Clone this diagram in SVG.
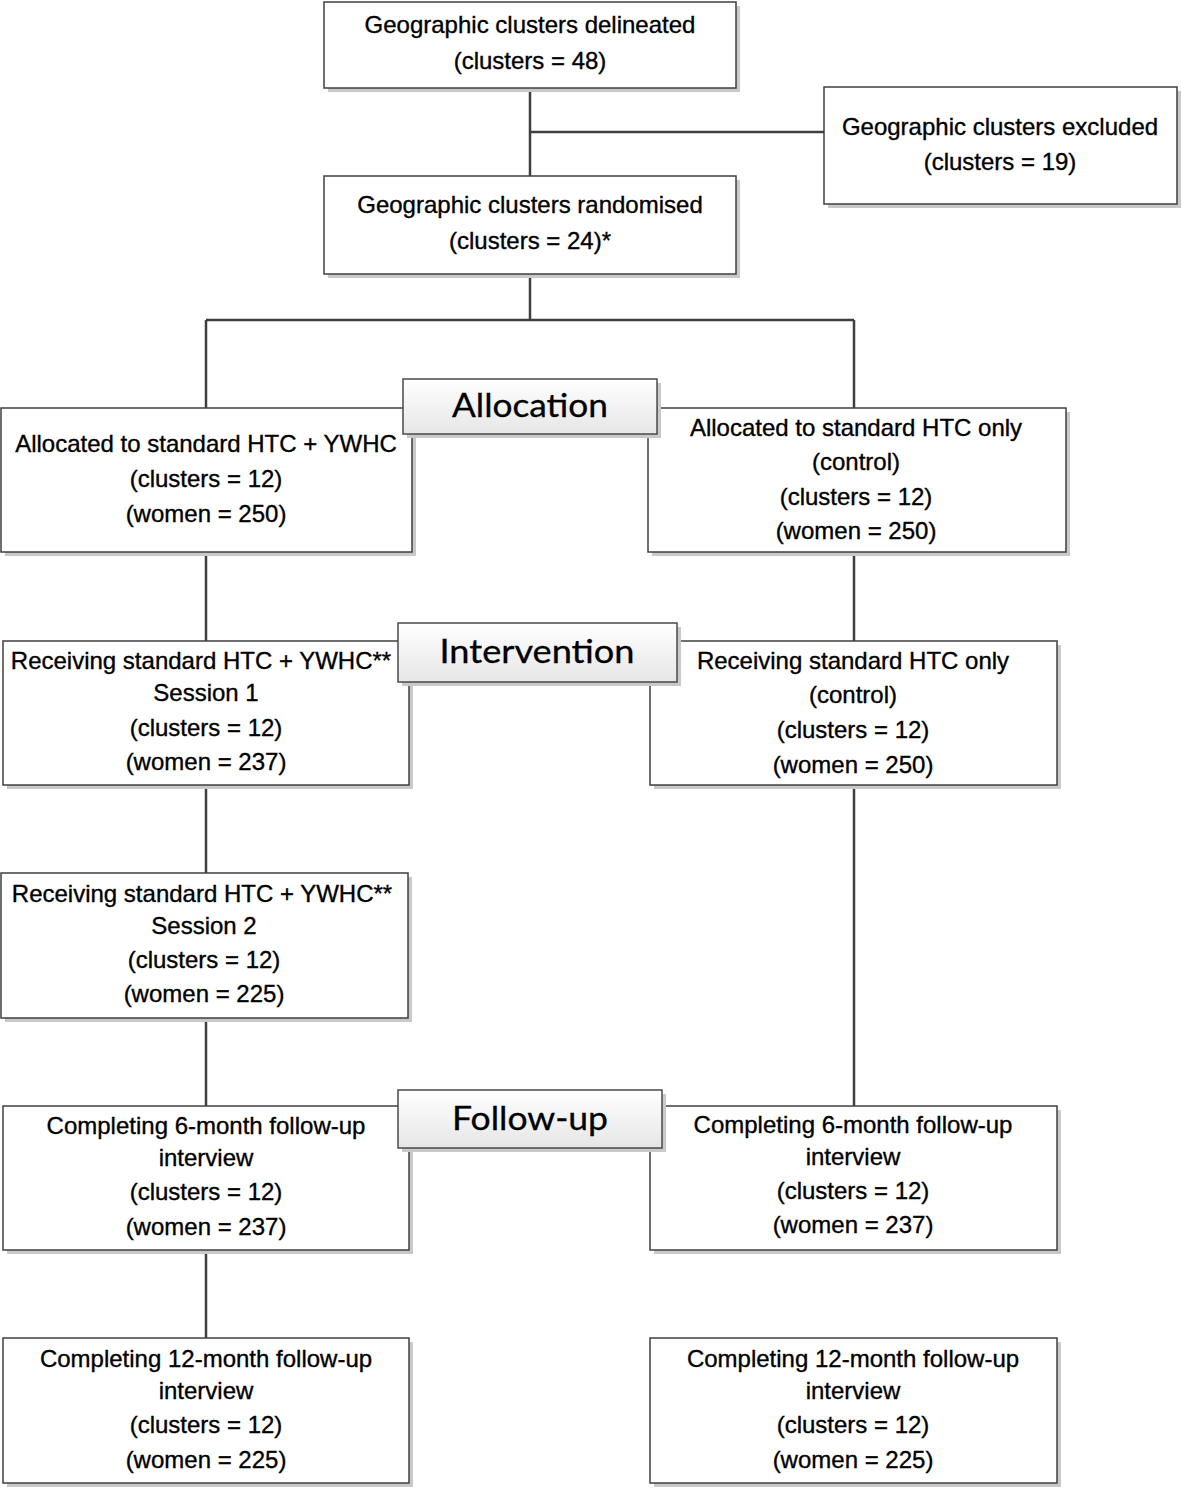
<svg xmlns="http://www.w3.org/2000/svg" width="1182" height="1489" viewBox="0 0 1182 1489">
<style>
.box{fill:#fff;stroke:#3f3f3f;stroke-width:1.5}
.sh{fill:#c9c9c9}
.ban{fill:url(#g);stroke:#4a4a4a;stroke-width:1.5}
.t{font-family:"Liberation Sans",Arial,sans-serif;font-size:24px;fill:#000;stroke:#000;stroke-width:0.35;text-anchor:middle}
.bt{font-family:Lato,"Open Sans",sans-serif;font-size:32px;fill:#000;stroke:#000;stroke-width:0.3;text-anchor:middle}
.c{stroke:#3f3f3f;stroke-width:2.5;fill:none}
</style>
<defs>
<linearGradient id="g" x1="0" y1="0" x2="0" y2="1">
<stop offset="0" stop-color="#ffffff"/>
<stop offset="1" stop-color="#e6e6e6"/>
</linearGradient>
</defs>
<rect width="1182" height="1489" fill="#fff"/>
<g id="connectors">
<path class="c" d="M530 88V176M530 132H824M530 274V320M206 320H854M206 320V408M854 320V408M206 552V641M854 552V641M206 785V873M206 1018V1106M854 785V1106M206 1250V1338"/>
</g>
<g id="n1">
<rect class="sh" x="328" y="6" width="412" height="86"/>
<rect class="box" x="324" y="2" width="412" height="86"/>
<text class="t" x="530" y="33">Geographic clusters delineated</text>
<text class="t" x="530" y="69">(clusters = 48)</text>
</g>
<g id="n_excluded">
<rect class="sh" x="828" y="91" width="353" height="117"/>
<rect class="box" x="824" y="87" width="353" height="117"/>
<text class="t" x="1000" y="135">Geographic clusters excluded</text>
<text class="t" x="1000" y="170">(clusters = 19)</text>
</g>
<g id="n_random">
<rect class="sh" x="328" y="180" width="412" height="98"/>
<rect class="box" x="324" y="176" width="412" height="98"/>
<text class="t" x="530" y="213">Geographic clusters randomised</text>
<text class="t" x="530" y="249">(clusters = 24)*</text>
</g>
<g id="n_alloc_l">
<rect class="sh" x="5" y="412" width="411" height="144"/>
<rect class="box" x="1" y="408" width="411" height="144"/>
<text class="t" x="206" y="452">Allocated to standard HTC + YWHC</text>
<text class="t" x="206" y="487">(clusters = 12)</text>
<text class="t" x="206" y="522">(women = 250)</text>
</g>
<g id="n_alloc_r">
<rect class="sh" x="652" y="412" width="418" height="144"/>
<rect class="box" x="648" y="408" width="418" height="144"/>
<text class="t" x="856" y="436">Allocated to standard HTC only</text>
<text class="t" x="856" y="470">(control)</text>
<text class="t" x="856" y="505">(clusters = 12)</text>
<text class="t" x="856" y="539">(women = 250)</text>
</g>
<g id="n_recv1_l">
<rect class="sh" x="7" y="645" width="406" height="144"/>
<rect class="box" x="3" y="641" width="406" height="144"/>
<text class="t" x="201" y="669">Receiving standard HTC + YWHC**</text>
<text class="t" x="206" y="701">Session 1</text>
<text class="t" x="206" y="736">(clusters = 12)</text>
<text class="t" x="206" y="770">(women = 237)</text>
</g>
<g id="n_recv_r">
<rect class="sh" x="654" y="645" width="407" height="144"/>
<rect class="box" x="650" y="641" width="407" height="144"/>
<text class="t" x="853" y="669">Receiving standard HTC only</text>
<text class="t" x="853" y="703">(control)</text>
<text class="t" x="853" y="738">(clusters = 12)</text>
<text class="t" x="853" y="773">(women = 250)</text>
</g>
<g id="n_recv2_l">
<rect class="sh" x="5" y="877" width="407" height="145"/>
<rect class="box" x="1" y="873" width="407" height="145"/>
<text class="t" x="202" y="902">Receiving standard HTC + YWHC**</text>
<text class="t" x="204" y="934">Session 2</text>
<text class="t" x="204" y="968">(clusters = 12)</text>
<text class="t" x="204" y="1002">(women = 225)</text>
</g>
<g id="n_6m_l">
<rect class="sh" x="7" y="1110" width="406" height="144"/>
<rect class="box" x="3" y="1106" width="406" height="144"/>
<text class="t" x="206" y="1134">Completing 6-month follow-up</text>
<text class="t" x="206" y="1166">interview</text>
<text class="t" x="206" y="1200">(clusters = 12)</text>
<text class="t" x="206" y="1235">(women = 237)</text>
</g>
<g id="n_6m_r">
<rect class="sh" x="654" y="1110" width="407" height="144"/>
<rect class="box" x="650" y="1106" width="407" height="144"/>
<text class="t" x="853" y="1133">Completing 6-month follow-up</text>
<text class="t" x="853" y="1165">interview</text>
<text class="t" x="853" y="1199">(clusters = 12)</text>
<text class="t" x="853" y="1233">(women = 237)</text>
</g>
<g id="n_12m_l">
<rect class="sh" x="7" y="1342" width="406" height="145"/>
<rect class="box" x="3" y="1338" width="406" height="145"/>
<text class="t" x="206" y="1367">Completing 12-month follow-up</text>
<text class="t" x="206" y="1399">interview</text>
<text class="t" x="206" y="1433">(clusters = 12)</text>
<text class="t" x="206" y="1468">(women = 225)</text>
</g>
<g id="n_12m_r">
<rect class="sh" x="654" y="1342" width="407" height="145"/>
<rect class="box" x="650" y="1338" width="407" height="145"/>
<text class="t" x="853" y="1367">Completing 12-month follow-up</text>
<text class="t" x="853" y="1399">interview</text>
<text class="t" x="853" y="1433">(clusters = 12)</text>
<text class="t" x="853" y="1468">(women = 225)</text>
</g>
<g id="b_allocation">
<rect class="sh" x="407" y="383" width="254" height="55"/>
<rect class="ban" x="403" y="379" width="254" height="55"/>
<text class="bt" x="530" y="417" textLength="156" lengthAdjust="spacingAndGlyphs">Allocation</text>
</g>
<g id="b_intervention">
<rect class="sh" x="402" y="627" width="279" height="59"/>
<rect class="ban" x="398" y="623" width="279" height="59"/>
<text class="bt" x="537" y="663" textLength="195" lengthAdjust="spacingAndGlyphs">Intervention</text>
</g>
<g id="b_followup">
<rect class="sh" x="402" y="1094" width="264" height="58"/>
<rect class="ban" x="398" y="1090" width="264" height="58"/>
<text class="bt" x="530" y="1130" textLength="156" lengthAdjust="spacingAndGlyphs">Follow-up</text>
</g>
</svg>
